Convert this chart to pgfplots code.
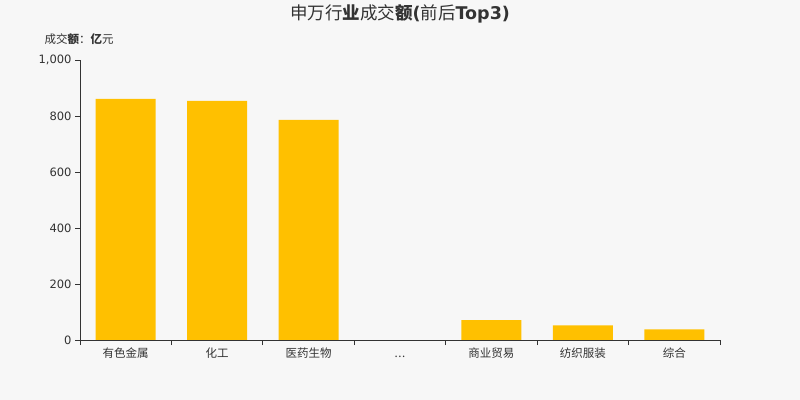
\documentclass[border=0pt]{standalone}
\usepackage{pgfplots}
\pgfplotsset{compat=1.18}
\usepackage{fontspec}
\setmainfont{DejaVu Sans}
\newfontfamily\cjk{Noto Sans CJK SC}
\newfontfamily\dv{DejaVu Sans}
\definecolor{bg}{RGB}{247,247,247}
\definecolor{barc}{RGB}{255,192,0}
\definecolor{txt}{RGB}{51,51,51}
\begin{document}
\begin{tikzpicture}
\fill[bg] (0,0) rectangle (800bp,400bp);
\path[use as bounding box] (0,0) rectangle (800bp,400bp);
\node[text=txt,font=\fontsize{17.5bp}{20bp}\selectfont\cjk] at (400bp,386bp) {申万行\textbf{业}成交\textbf{额}{\dv\bfseries(}前后{\dv\bfseries Top3)}};
\node[text=txt,font=\fontsize{11.5bp}{13bp}\selectfont\cjk] at (79bp,361bp) {成交\textbf{额}：\textbf{亿}元};
\begin{axis}[
  at={(80bp,60bp)}, anchor=south west,
  scale only axis, width=640bp, height=280bp,
  xmin=-0.5, xmax=6.5, ymin=0, ymax=1000,
  axis lines*=left,
  axis line style={txt, line width=0.8bp},
  tick style={draw=txt, line width=0.8bp},
  tick align=outside,
  major tick length=5bp,
  ytick={0,200,400,600,800,1000},
  y tick label style={font=\fontsize{11.5bp}{13bp}\selectfont, text=txt},
  /pgf/number format/1000 sep={,},
  /pgf/number format/assume math mode=true,
  xtick={-0.5,0.5,1.5,2.5,3.5,4.5,5.5,6.5},
  xticklabels={},
  extra x ticks={0,1,2,3,4,5,6},
  extra x tick labels={有色金属,化工,医药生物,{\vphantom{有}.\kern0.5bp.\kern0.5bp.},商业贸易,纺织服装,综合},
  extra x tick style={major tick length=0pt, tick label style={font=\fontsize{11.5bp}{13bp}\selectfont\cjk, text=txt, yshift=-4bp}},
  ybar, bar width=60bp,
]
\addplot[fill=barc, draw=none] coordinates {(0,861) (1,854) (2,786) (4,71) (5,52) (6,38)};
\end{axis}
\end{tikzpicture}
\end{document}
